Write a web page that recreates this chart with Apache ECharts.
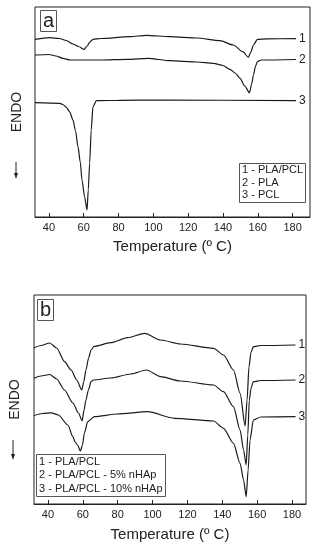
<!DOCTYPE html>
<html>
<head>
<meta charset="utf-8">
<script src="https://cdn.jsdelivr.net/npm/echarts@6/dist/echarts.min.js"></script>
<style>html,body{margin:0;padding:0;background:#fff}#c{width:318px;height:550px}</style>
</head>
<body>
<div id="c"></div>
<script>
// Tick labels
var xTicks = [40, 60, 80, 100, 120, 140, 160, 180];

// Panel a – curve 1 (PLA/PCL)
var a1T = [32, 40.4, 46, 50, 53.8, 57, 60.2, 62, 63.5, 65.3, 70, 86.5, 96, 109.6, 125, 138.3, 146, 151.4, 154.6, 156, 157.5, 159.8, 165, 182];
var a1V = [177.7, 179.3, 178.5, 176.5, 173, 170.5, 167.7, 171, 175, 177.7, 178.5, 180.3, 181.7, 180.3, 179, 176.3, 172, 165.3, 159.7, 165, 172, 177.7, 178.2, 178.3];
// Panel a – curve 2 (PLA)
var a2T = [32, 40, 44, 48, 52, 70, 85, 97, 109.6, 125, 134.5, 140, 144, 147, 149.8, 152.5, 155.2, 156.5, 157.5, 158.7, 159.8, 162, 182];
var a2V = [162, 162.5, 161, 158.7, 157, 157, 157.7, 158.7, 156.3, 155, 153.7, 151.5, 147.7, 144, 138.7, 131, 124.3, 133, 142, 151, 155.3, 157, 157.5];
// Panel a – curve 3 (PCL)
var a3T = [32, 46.2, 48, 50, 52, 53.8, 55.3, 56.7, 58, 59, 60.5, 61.9, 62.6, 63.4, 64.3, 65.3, 67.3, 80, 105.5, 182];
var a3V = [114.3, 113.7, 112.5, 109.7, 105, 97, 86, 70.3, 55, 37, 20, 7, 27, 54, 87, 110.3, 116.3, 116.7, 117, 116.3];

// Panel b – curve 1 (PLA/PCL)
var b1T = [32, 36, 41, 45, 49.5, 53.3, 56.5, 59.4, 60.5, 61.8, 63.3, 64.7, 66.4, 76, 85.6, 95.5, 104.6, 116, 135, 140.7, 146.4, 150.2, 153.1, 154.2, 155.3, 156.5, 157.8, 162, 182];
var b1V = [156, 158.5, 161, 156, 142.3, 134, 124, 114, 122, 134, 146, 154, 157.6, 161.3, 166.3, 170.7, 164, 160, 155.7, 149, 134, 110.7, 78, 104, 137.3, 152, 157.3, 158.5, 159];
// Panel b – curve 2 (PLA/PCL - 5% nHAp)
var b2T = [32, 36, 41, 45, 49.5, 54.3, 57.5, 59.6, 60.7, 61.8, 63.2, 64.7, 66, 76, 87.5, 96.5, 104.6, 116, 135, 140.7, 146.4, 150.2, 152.2, 153.7, 154.6, 155.5, 156.5, 157.8, 162, 182];
var b2V = [125.7, 128, 129.5, 125, 114, 101, 91, 83.3, 94, 104, 114, 122.3, 124, 126, 130, 134, 127.3, 123, 119, 112.3, 97.3, 74, 54, 39, 69, 104, 116, 122.3, 123.5, 124];
// Panel b – curve 3 (PLA/PCL - 10% nHAp)
var b3T = [32, 37, 41.9, 46, 51.4, 54.3, 55.6, 57, 58.6, 59.8, 60.9, 62.8, 66.6, 79.9, 97, 112.7, 135, 140.7, 146.4, 150.2, 152.2, 153.7, 154.8, 155.9, 157.8, 162, 182];
var b3V = [88.5, 90.5, 91.2, 89, 79, 67.3, 62, 59, 53, 59, 71, 82.3, 87.3, 90, 92.3, 85.7, 83, 75.7, 60.7, 40.7, 24, 7.3, 34, 64, 84, 87, 87.3];

var legendA = ['1 - PLA/PCL', '2 - PLA', '3 - PCL'];
var legendB = ['1 - PLA/PCL', '2 - PLA/PCL - 5% nHAp', '3 - PLA/PCL - 10% nHAp'];

function pairs(t, v) { return t.map(function (x, i) { return [x, v[i]]; }); }

var FONT = 'Liberation Sans, Arial, sans-serif';

function xAxis(idx, min, max, gap) {
  return {
    type: 'value', gridIndex: idx, min: min, max: max,
    name: 'Temperature (º C)', nameLocation: 'middle', nameGap: gap,
    nameTextStyle: { fontFamily: FONT, fontSize: 15, color: '#222' },
    axisLine: { show: true, lineStyle: { color: '#222', width: 1 } },
    axisTick: { show: true, inside: true, length: 4, customValues: xTicks, lineStyle: { color: '#222' } },
    axisLabel: { customValues: xTicks, fontFamily: FONT, fontSize: 11, color: '#222', margin: 5 },
    splitLine: { show: false }
  };
}
function yAxis(idx, max, gap) {
  return {
    type: 'value', gridIndex: idx, min: 0, max: max,
    name: 'ENDO', nameLocation: 'middle', nameGap: gap, nameRotate: 90,
    nameTextStyle: { fontFamily: FONT, fontSize: 14, color: '#222' },
    axisLine: { show: false }, axisTick: { show: false }, axisLabel: { show: false }, splitLine: { show: false }
  };
}
function line(name, xi, t, v) {
  return {
    type: 'line', name: name, xAxisIndex: xi, yAxisIndex: xi,
    data: pairs(t, v), showSymbol: false, smooth: 0.25, smoothMonotone: 'x',
    lineStyle: { color: '#1a1a1a', width: 1.2 },
    endLabel: { show: true, formatter: name, fontFamily: FONT, fontSize: 12, color: '#222', distance: 3 },
    silent: true
  };
}

var chart = echarts.init(document.getElementById('c'), null, { renderer: 'canvas' });
chart.setOption({
  animation: false,
  backgroundColor: '#fff',
  grid: [
    { left: 35, top: 7, width: 275, height: 210, show: true, borderColor: '#222', borderWidth: 1, backgroundColor: 'transparent' },
    { left: 32, top: 295, width: 274, height: 209, show: true, borderColor: '#222', borderWidth: 1, backgroundColor: 'transparent' }
  ],
  xAxis: [xAxis(0, 32, 190, 22), xAxis(1, 32, 188, 23)],
  yAxis: [yAxis(0, 210, 11), yAxis(1, 209, 12)],
  title: [
    { text: 'a', left: 40, top: 10, padding: [0, 3, 0, 3], borderWidth: 1, borderColor: '#555',
      textStyle: { fontFamily: FONT, fontSize: 20, fontWeight: 'normal', lineHeight: 22, color: '#222' } },
    { text: 'b', left: 37, top: 299, padding: [0, 3, 0, 3], borderWidth: 1, borderColor: '#555',
      textStyle: { fontFamily: FONT, fontSize: 20, fontWeight: 'normal', lineHeight: 22, color: '#222' } },
    { text: legendA.join('\n'), left: 239, top: 163, padding: [1, 3, 1, 3], borderWidth: 1, borderColor: '#555',
      textStyle: { fontFamily: FONT, fontSize: 11, fontWeight: 'normal', lineHeight: 12.5, color: '#222' } },
    { text: legendB.join('\n'), left: 36, top: 454, padding: [1, 3, 1, 3], borderWidth: 1, borderColor: '#555',
      textStyle: { fontFamily: FONT, fontSize: 11, fontWeight: 'normal', lineHeight: 13.5, color: '#222' } }
  ],
  graphic: [
    { type: 'line', shape: { x1: 16, y1: 162, x2: 16, y2: 175 }, style: { stroke: '#222', lineWidth: 1 } },
    { type: 'polygon', shape: { points: [[14, 173], [18, 173], [16, 179]] }, style: { fill: '#222' } },
    { type: 'line', shape: { x1: 13, y1: 440, x2: 13, y2: 455 }, style: { stroke: '#222', lineWidth: 1 } },
    { type: 'polygon', shape: { points: [[11, 454], [15, 454], [13, 460]] }, style: { fill: '#222' } }
  ],
  series: [
    line('1', 0, a1T, a1V), line('2', 0, a2T, a2V), line('3', 0, a3T, a3V),
    line('1', 1, b1T, b1V), line('2', 1, b2T, b2V), line('3', 1, b3T, b3V)
  ]
});
</script>
</body>
</html>
